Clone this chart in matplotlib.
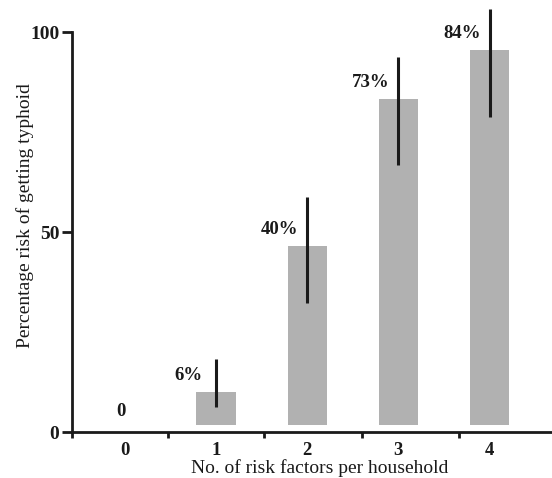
import numpy as np
import matplotlib
matplotlib.use("Agg")
import matplotlib.pyplot as plt

plt.rcParams['font.family'] = ['Liberation Serif', 'DejaVu Serif']

# data
factors = ['0', '1', '2', '3', '4']
bar_top = [0.0, 10.0, 46.5, 83.2, 95.5]
bar_base = 1.75
err_lo = [np.nan, 6.2, 32.2, 66.7, 78.7]
err_hi = [np.nan, 18.2, 58.7, 93.7, 105.7]
pct_labels = ['0', '6%', '40%', '73%', '84%']
yticks = [0, 50, 100]
sep_ticks = [-0.58, 0.47, 1.53, 2.6, 3.66]

barcol = '#b1b1b1'
ink = '#1a1a1a'

fig = plt.figure(figsize=(5.52, 4.78), dpi=100)
ax = fig.add_axes([0.1304, 0.0962, 0.8696, 0.9038])

x = np.arange(len(factors))
tops = np.array(bar_top)
has_bar = tops > bar_base
ax.bar(x[has_bar], tops[has_bar] - bar_base, bottom=bar_base, width=0.43,
       color=barcol, edgecolor='none', zorder=2)
ax.vlines(x[has_bar], np.array(err_lo)[has_bar], np.array(err_hi)[has_bar],
          color=ink, lw=2.2, zorder=3, clip_on=False)

for xi, t, lab in zip(x, tops, pct_labels):
    if lab == '0':
        ax.text(xi - 0.04, t + 5.2, lab, ha='center', va='center',
                fontsize=13.5, fontweight='bold', color=ink)
    else:
        ax.text(xi - 0.3, t + 4.2, lab, ha='center', va='center',
                fontsize=13.5, fontweight='bold', color=ink)

ax.set_xlim(-0.58, 4.685)
ax.set_ylim(0, 108)

for s in ['top', 'right']:
    ax.spines[s].set_visible(False)
for s in ['left', 'bottom']:
    ax.spines[s].set_linewidth(2)
    ax.spines[s].set_color(ink)
ax.spines['left'].set_bounds(0, 100)

ax.set_yticks(yticks)
ax.set_yticklabels([str(v) for v in yticks], fontsize=14, fontweight='bold')
ax.tick_params(axis='y', length=7.5, width=2, pad=1.5, color=ink, labelcolor=ink)

# separators as major ticks, category names as minor ticks
ax.set_xticks(sep_ticks)
ax.set_xticklabels([])
ax.tick_params(axis='x', which='major', length=4, width=2, color=ink)
ax.set_xticks(x, minor=True)
ax.set_xticklabels(factors, minor=True, fontsize=13.5, fontweight='bold')
ax.tick_params(axis='x', which='minor', length=0, pad=7.5, labelcolor=ink)

ax.set_xlabel('No. of risk factors per household', fontsize=14, color=ink)
ax.xaxis.set_label_coords(0.515, -0.083)
ax.xaxis.label.set_va('center')
ax.set_ylabel('Percentage risk of getting typhoid', fontsize=14, color=ink)
ax.yaxis.set_label_coords(-0.098, 0.5)
ax.yaxis.label.set_va('center')

fig.savefig('out.png', dpi=100)
